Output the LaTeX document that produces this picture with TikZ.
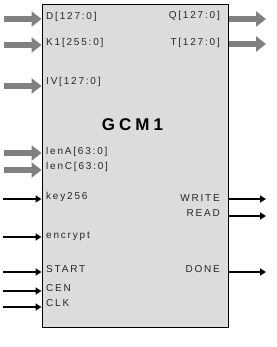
\documentclass[tikz,border=0pt]{standalone}
\usepackage{fontspec}
\setmainfont{Liberation Sans}
\newfontfamily\portfont[LetterSpace=18]{Liberation Sans}
\newfontfamily\titlefont[LetterSpace=24]{Liberation Sans}
\usetikzlibrary{arrows.meta,positioning}
\definecolor{boxgray}{HTML}{DCDCDC}
\definecolor{busgray}{HTML}{808080}

\begin{document}
\begin{tikzpicture}[
    x=1pt, y=-1pt,
    block/.style={draw, line width=1pt, fill=boxgray, minimum width=186pt, minimum height=322pt, inner sep=0pt},
    port/.style={font=\portfont\fontsize{10}{12}\selectfont, text=black!85, inner sep=1pt},
    inport/.style={port, anchor=west},
    outport/.style={port, anchor=east},
    bus/.style={-{Triangle[length=10pt, width=15pt]}, line width=5.5pt, draw=busgray},
    wire/.style={-{Triangle[length=6pt, width=7pt]}, line width=1.8pt},
  ]
  \useasboundingbox (0,0) rectangle (276,347);

  % Block
  \node[block] (gcm) at (135,166) {};
  \node[font=\titlefont\bfseries\fontsize{17}{20}\selectfont] (title) at (132.5,125) {GCM1};

  % Input ports
  \node[inport] (d) at (45,17) {D[127:0]};
  \node[inport] (k1) at (45,43) {K1[255:0]};
  \node[inport] (iv) at (45,82) {IV[127:0]};
  \node[inport] (lena) at (45,152) {lenA[63:0]};
  \node[inport] (lenc) at (45,167) {lenC[63:0]};
  \node[inport] (key) at (45,197) {key256};
  \node[inport] (enc) at (45,236) {encrypt};
  \node[inport] (start) at (45,269) {START};
  \node[inport] (cen) at (45,288) {CEN};
  \node[inport] (clk) at (45,303) {CLK};

  % Output ports
  \node[outport] (q) at (221,16) {Q[127:0]};
  \node[outport] (t) at (221,43) {T[127:0]};
  \node[outport] (write) at (221,198) {WRITE};
  \node[outport] (read) at (221,213) {READ};
  \node[outport] (done) at (221,269) {DONE};

  % Free ends
  \coordinate (dIn) at (4,19);
  \coordinate (k1In) at (4,45);
  \coordinate (ivIn) at (4,86);
  \coordinate (lenaIn) at (4,153);
  \coordinate (lencIn) at (4,170);
  \coordinate (keyIn) at (3,199);
  \coordinate (encIn) at (3,237);
  \coordinate (startIn) at (3,272);
  \coordinate (cenIn) at (3,291);
  \coordinate (clkIn) at (3,307);
  \coordinate (qOut) at (266,19);
  \coordinate (tOut) at (266,44);
  \coordinate (writeOut) at (266,199);
  \coordinate (readOut) at (266,216);
  \coordinate (doneOut) at (266,272);

  % Buses
  \draw[bus] (dIn) -- (gcm.west |- dIn);
  \draw[bus] (k1In) -- (gcm.west |- k1In);
  \draw[bus] (ivIn) -- (gcm.west |- ivIn);
  \draw[bus] (lenaIn) -- (gcm.west |- lenaIn);
  \draw[bus] (lencIn) -- (gcm.west |- lencIn);
  \draw[bus] (gcm.east |- qOut) -- (qOut);
  \draw[bus] (gcm.east |- tOut) -- (tOut);

  % Single wires
  \draw[wire] (keyIn) -- (gcm.west |- keyIn);
  \draw[wire] (encIn) -- (gcm.west |- encIn);
  \draw[wire] (startIn) -- (gcm.west |- startIn);
  \draw[wire] (cenIn) -- (gcm.west |- cenIn);
  \draw[wire] (clkIn) -- (gcm.west |- clkIn);
  \draw[wire] (gcm.east |- writeOut) -- (writeOut);
  \draw[wire] (gcm.east |- readOut) -- (readOut);
  \draw[wire] (gcm.east |- doneOut) -- (doneOut);
\end{tikzpicture}
\end{document}
